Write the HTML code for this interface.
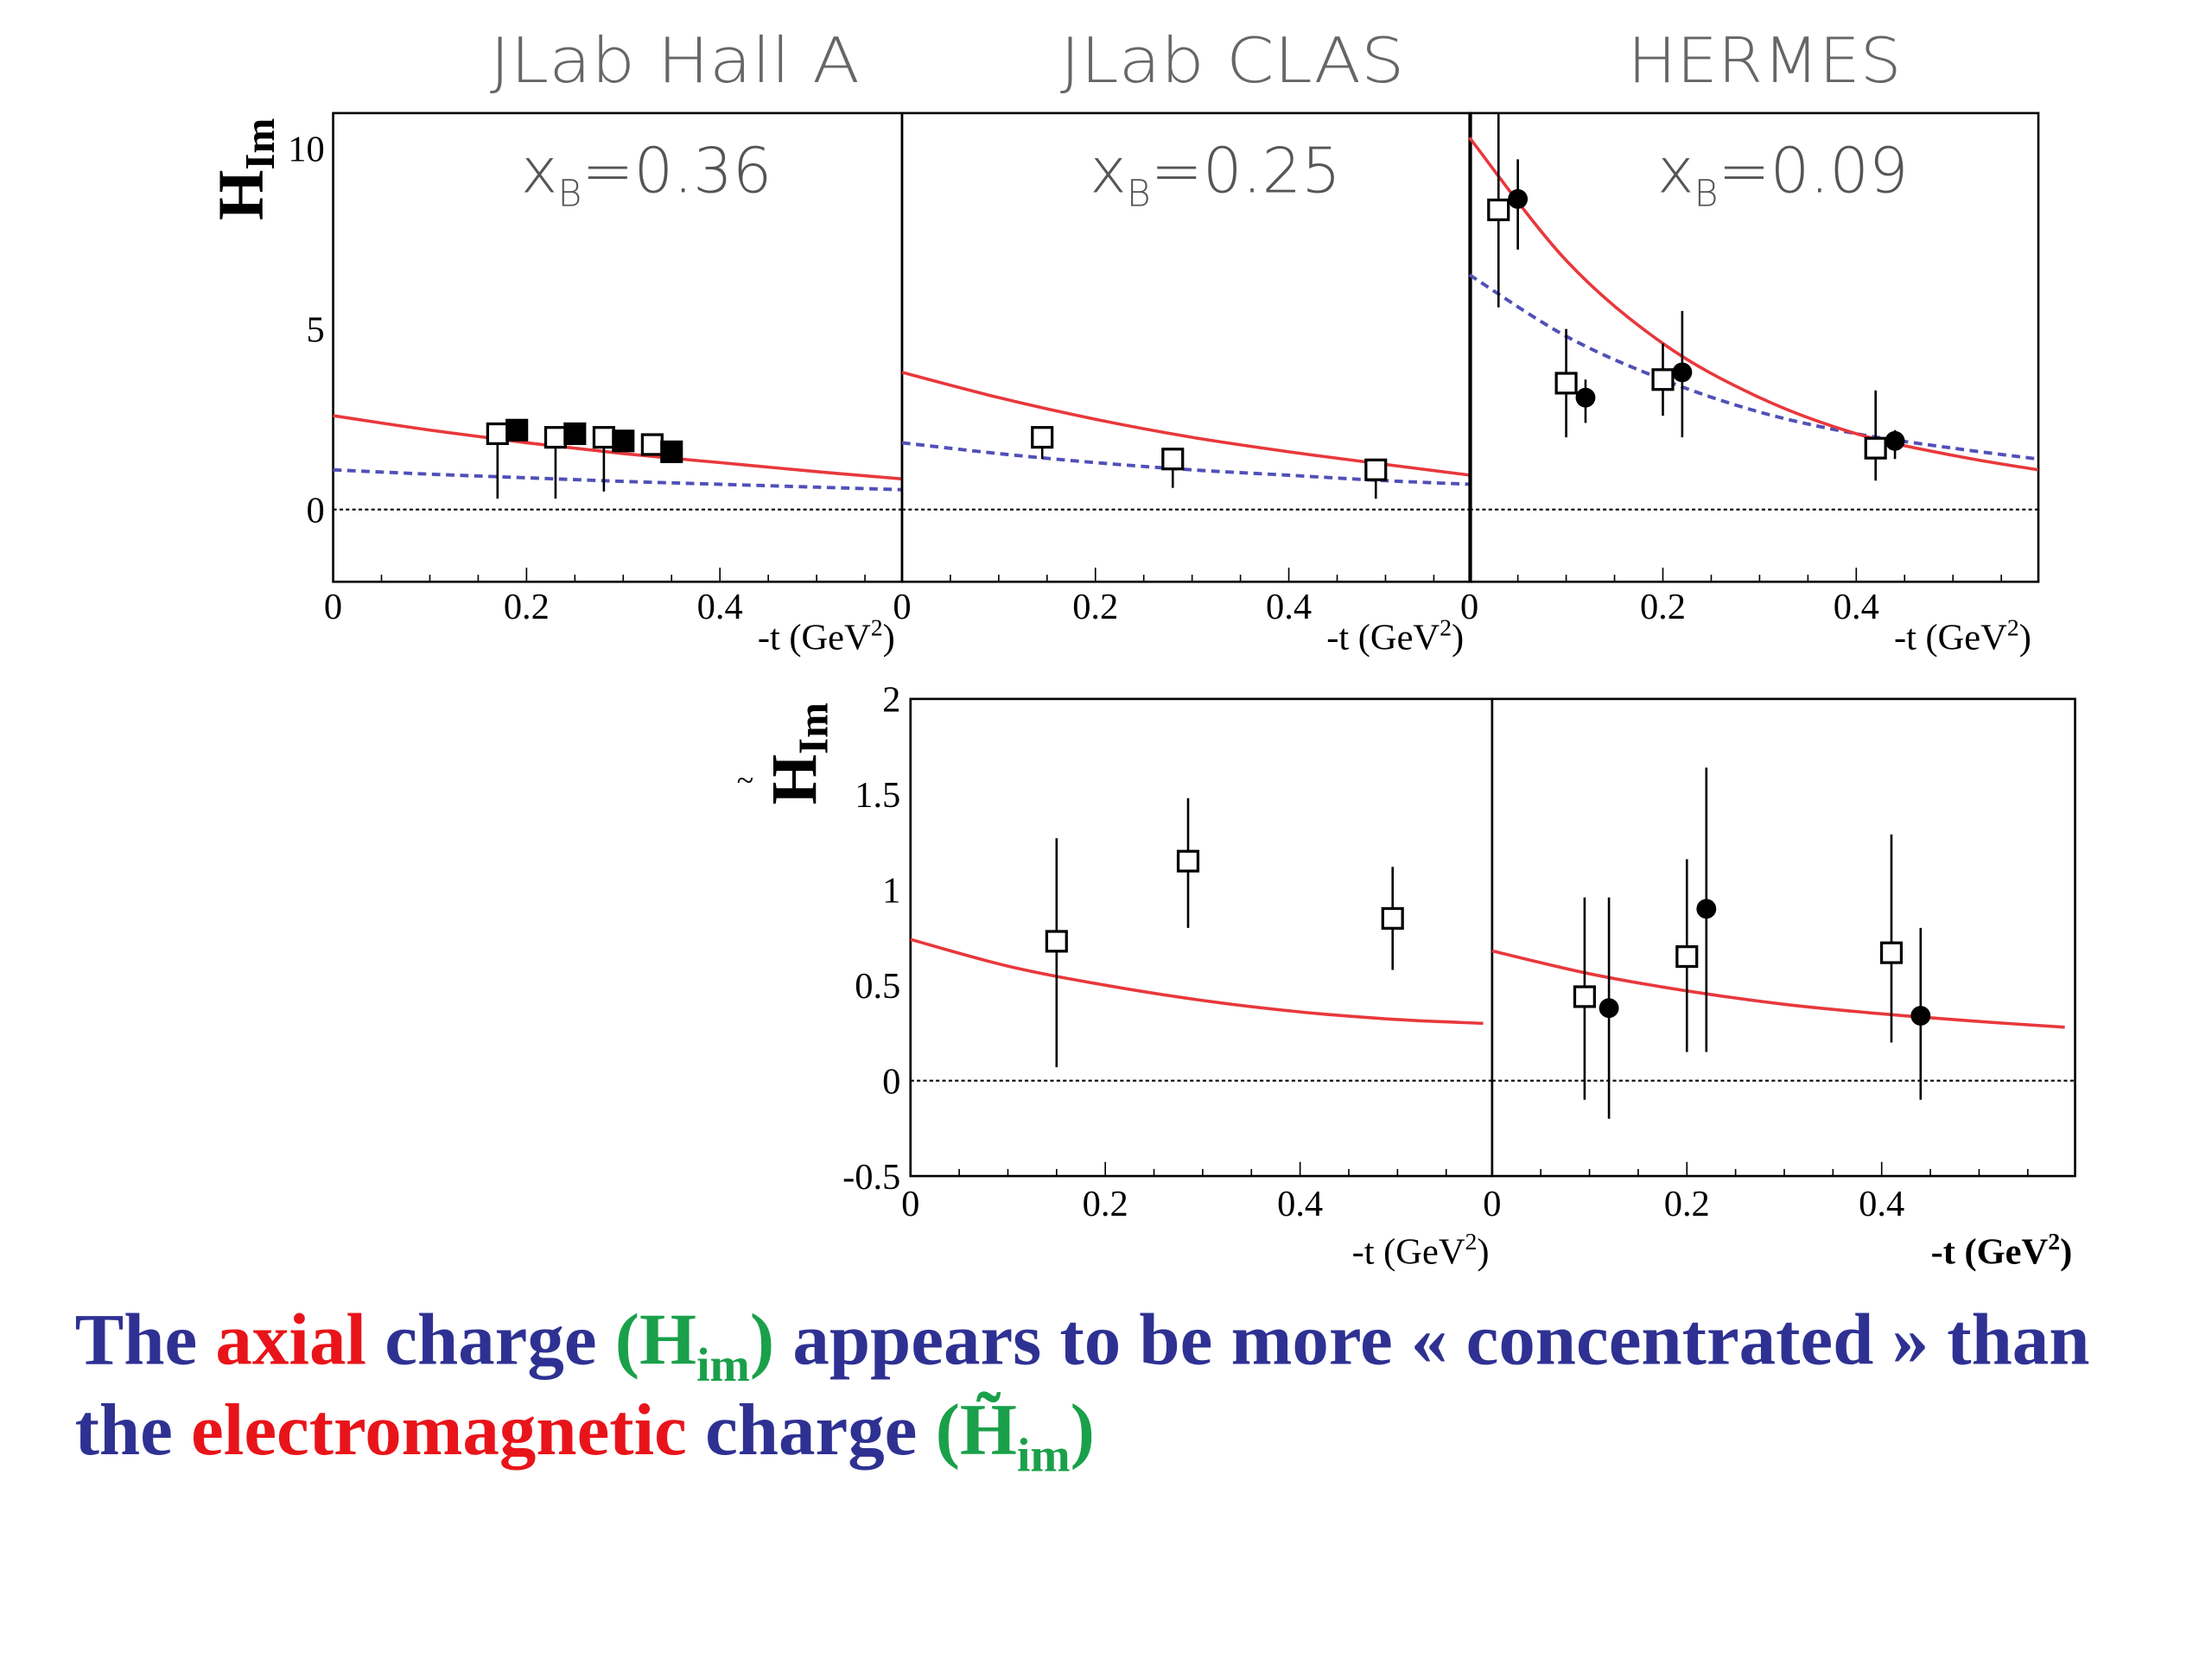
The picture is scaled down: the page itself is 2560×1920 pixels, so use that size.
<!DOCTYPE html>
<html><head><meta charset="utf-8"><style>
html,body{margin:0;padding:0;background:#fff;}
svg{display:block;}
</style></head><body>
<svg id="chart" width="2560" height="1920" viewBox="0 0 1567 1175" xmlns="http://www.w3.org/2000/svg">
<g id="top-titles" font-family="'DejaVu Sans','Liberation Sans',sans-serif" font-weight="300" font-size="44" fill="#666">
<text x="478" y="58" text-anchor="middle" textLength="262" lengthAdjust="spacingAndGlyphs">JLab Hall A</text>
<text x="873" y="58" text-anchor="middle" textLength="244" lengthAdjust="spacingAndGlyphs">JLab CLAS</text>
<text x="1250" y="58" text-anchor="middle" textLength="194" lengthAdjust="spacingAndGlyphs">HERMES</text>
</g>
<g id="plots"></g>
<text transform="translate(186,156) rotate(-90)" font-family="'Liberation Serif',serif" font-weight="bold" font-size="46">H<tspan font-size="30" dy="8">Im</tspan></text>
<text transform="translate(578,570) rotate(-90)" font-family="'Liberation Serif',serif" font-weight="bold" font-size="46">H<tspan font-size="30" dy="8">Im</tspan></text>
<text x="522" y="560" font-family="'Liberation Serif',serif" font-size="22">~</text>
<g font-family="'Liberation Serif',serif" font-weight="bold" font-size="52">
<text x="53" y="966" fill="#2e3192">The <tspan fill="#e8141a">axial</tspan> charge <tspan fill="#1aa04a">(H<tspan font-size="34" dy="12">im</tspan><tspan dy="-12">)</tspan></tspan> appears to be more « concentrated » than</text>
<text x="53" y="1030" fill="#2e3192">the <tspan fill="#e8141a">electromagnetic</tspan> charge <tspan fill="#1aa04a">(H̃<tspan font-size="34" dy="12">im</tspan><tspan dy="-12">)</tspan></tspan></text>
</g>
</svg>
<script>
const curveT = [0, 0.1, 0.2, 0.3, 0.4, 0.5, 0.588];
const hallARed = [2.6, 2.2, 1.85, 1.55, 1.3, 1.05, 0.85];
const hallABlue = [1.1, 0.98, 0.88, 0.78, 0.7, 0.62, 0.55];
const clasRed = [3.8, 3.1, 2.5, 2.0, 1.6, 1.25, 0.95];
const clasBlue = [1.85, 1.55, 1.3, 1.1, 0.95, 0.8, 0.7];
const hermesRed = [10.3, 6.9, 4.6, 3.1, 2.1, 1.5, 1.1];
const hermesBlue = [6.5, 4.8, 3.6, 2.7, 2.1, 1.7, 1.4];
const tildeClasRed = [0.74, 0.6, 0.5, 0.42, 0.36, 0.32, 0.30];
const tildeHermesRed = [0.68, 0.56, 0.47, 0.40, 0.35, 0.31, 0.28];

const hallAOpenT = [0.17, 0.23, 0.28, 0.33];
const hallAOpenY = [2.1, 2.0, 2.0, 1.8];
const hallAOpenLo = [0.3, 0.3, 0.5, 1.6];
const hallAOpenHi = [2.1, 2.0, 2.0, 1.8];
const hallAFillT = [0.19, 0.25, 0.30, 0.35];
const hallAFillY = [2.2, 2.1, 1.9, 1.6];

const clasT = [0.145, 0.28, 0.49];
const clasY = [2.0, 1.4, 1.1];
const clasLo = [1.4, 0.6, 0.3];
const clasHi = [2.0, 1.4, 1.1];

const hermesOpenT = [0.03, 0.10, 0.20, 0.42];
const hermesOpenY = [8.3, 3.5, 3.6, 1.7];
const hermesOpenLo = [5.6, 2.0, 2.6, 0.8];
const hermesOpenHi = [11, 5.0, 4.6, 3.3];
const hermesFillT = [0.05, 0.12, 0.22, 0.44];
const hermesFillY = [8.6, 3.1, 3.8, 1.9];
const hermesFillLo = [7.2, 2.4, 2.0, 1.4];
const hermesFillHi = [9.7, 3.6, 5.5, 2.2];

const tClasT = [0.15, 0.285, 0.495];
const tClasY = [0.73, 1.15, 0.85];
const tClasLo = [0.07, 0.8, 0.58];
const tClasHi = [1.27, 1.48, 1.12];

const tHermesOpenT = [0.095, 0.2, 0.41];
const tHermesOpenY = [0.44, 0.65, 0.67];
const tHermesOpenLo = [-0.1, 0.15, 0.2];
const tHermesOpenHi = [0.96, 1.16, 1.29];
const tHermesFillT = [0.12, 0.22, 0.44];
const tHermesFillY = [0.38, 0.9, 0.34];
const tHermesFillLo = [-0.2, 0.15, -0.1];
const tHermesFillHi = [0.96, 1.64, 0.8];

const topYTicks = [0, 5, 10];
const botYTicks = [-0.5, 0, 0.5, 1, 1.5, 2];
const botYTickLabels = ['-0.5', '0', '0.5', '1', '1.5', '2'];
const xTicks = [0, 0.2, 0.4];
const xTickLabels = ['0', '0.2', '0.4'];

const NS = 'http://www.w3.org/2000/svg';
const root = document.getElementById('plots');
function mk(tag, attrs, parent) {
  const e = document.createElementNS(NS, tag);
  for (const k in attrs) e.setAttribute(k, attrs[k]);
  (parent || root).appendChild(e);
  return e;
}

function panel(x0, w, yTop, yBot, yMin, yMax, pxPerT, label) {
  const sx = t => x0 + t * pxPerT;
  const sy = v => yBot - (v - yMin) / (yMax - yMin) * (yBot - yTop);
  const g = mk('g', {});
  
  
  const fr = mk('rect', {x: x0, y: yTop, width: w, height: yBot - yTop, fill: 'none', stroke: '#000', 'stroke-width': 1.6}, g);
  
  
  for (let t = 0; t <= w / pxPerT + 1e-6; t += 0.05) {
    const major = Math.abs(t * 10 - Math.round(t * 10)) < 1e-6 && Math.round(t*10)%2===0;
    const tk = mk('line', {x1: sx(t), x2: sx(t), y1: yBot, y2: yBot - (major ? 10 : 5), stroke: '#000', 'stroke-width': 1}, g);
    
    
  }
  const z = mk('line', {x1: x0, x2: x0 + w, y1: sy(0), y2: sy(0), stroke: '#000', 'stroke-width': 1.3, 'stroke-dasharray': '2.5,2'}, g);
  
  
  return {g, sx, sy};
}
function curve(p, ys, color, dashed, name) {
  const P = curveT.map((t, i) => [p.sx(t), p.sy(ys[i])]);
  let d = 'M' + P[0][0] + ',' + P[0][1];
  for (let i = 0; i < P.length - 1; i++) {
    const p0 = P[Math.max(i - 1, 0)], p1 = P[i], p2 = P[i + 1], p3 = P[Math.min(i + 2, P.length - 1)];
    const c1x = p1[0] + (p2[0] - p0[0]) / 6, c1y = p1[1] + (p2[1] - p0[1]) / 6;
    const c2x = p2[0] - (p3[0] - p1[0]) / 6, c2y = p2[1] - (p3[1] - p1[1]) / 6;
    d += ' C' + c1x + ',' + c1y + ' ' + c2x + ',' + c2y + ' ' + p2[0] + ',' + p2[1];
  }
  const e = mk('path', {d, fill: 'none', stroke: color, 'stroke-width': dashed ? 2.4 : 2.2, 'stroke-dasharray': dashed ? '6,4' : 'none'}, p.g);
  
  
}
function points(p, ts, ys, lo, hi, filled, shape, name) {
  ts.forEach((t, i) => {
    if (lo) {
      const eb = mk('line', {x1: p.sx(t), x2: p.sx(t), y1: p.sy(lo[i]), y2: p.sy(hi[i]), stroke: '#000', 'stroke-width': 1.6}, p.g);
      
      
    }
    let m;
    if (shape === 'circle') m = mk('circle', {cx: p.sx(t), cy: p.sy(ys[i]), r: 7, fill: '#000'}, p.g);
    else m = mk('rect', {x: p.sx(t) - 7, y: p.sy(ys[i]) - 7, width: 14, height: 14, fill: filled ? '#000' : '#fff', stroke: '#000', 'stroke-width': 2}, p.g);
    
    
  });
}
function txt(s, x, y, size, anchor, name, bold) {
  const e = mk('text', {x, y, 'font-size': size, 'text-anchor': anchor, 'font-family': "'Liberation Serif',serif", 'font-weight': bold ? 'bold' : 'normal'});
  e.textContent = s;
  
  
  return e;
}

const tops = [
  {x0: 236, label: 'hall-a', red: hallARed, blue: hallABlue, xb: '0.36'},
  {x0: 639, label: 'clas', red: clasRed, blue: clasBlue, xb: '0.25'},
  {x0: 1041, label: 'hermes', red: hermesRed, blue: hermesBlue, xb: '0.09'}
];
const pTop = tops.map(o => {
  const p = panel(o.x0, o.x0 === 1041 ? 403 : 403, 80, 412, -2, 10.98, 685, o.label);
  curve(p, o.blue, '#5050b8', true, o.label + '-blue-curve');
  curve(p, o.red, '#e8383c', false, o.label + '-red-curve');
  xTicks.forEach((t, i) => txt(xTickLabels[i], p.sx(t), 438, 26, 'middle', 'x-tick-label'));
  const xl = txt('-t (GeV', o.x0 + 398, 460, 26, 'end', 'x-axis-title');
  const sup = mk('tspan', {dy: -10, 'font-size': 17}, xl); sup.textContent = '2';
  const cl = mk('tspan', {dy: 10}, xl); cl.textContent = ')';
  const xbT = mk('text', {x: o.x0 + 222, y: 136, 'text-anchor': 'middle', 'font-family': "'DejaVu Sans','Liberation Sans',sans-serif", 'font-weight': 300, 'font-size': 44, fill: '#555'});
  
  
  xbT.innerHTML = 'x<tspan font-size="26" dy="10">B</tspan><tspan dy="-10">=0.' + o.xb.slice(2) + '</tspan>';
  return p;
});
topYTicks.forEach(v => txt(String(v), 230, pTop[0].sy(v) + 9, 26, 'end', 'y-tick-label'));
points(pTop[0], hallAOpenT, hallAOpenY, hallAOpenLo, hallAOpenHi, false, 'sq', 'hall-a-open');
points(pTop[0], hallAFillT, hallAFillY, null, null, true, 'sq', 'hall-a-filled');
points(pTop[1], clasT, clasY, clasLo, clasHi, false, 'sq', 'clas-open');
points(pTop[2], hermesOpenT, hermesOpenY, hermesOpenLo, hermesOpenHi, false, 'sq', 'hermes-open');
points(pTop[2], hermesFillT, hermesFillY, hermesFillLo, hermesFillHi, true, 'circle', 'hermes-filled');

const b1 = panel(645, 412, 495, 833, -0.5, 2, 690, 'tilde-clas');
const b2 = panel(1057, 413, 495, 833, -0.5, 2, 690, 'tilde-hermes');
curve(b1, tildeClasRed, '#e8383c', false, 'tilde-clas-red-curve');
curve(b2, tildeHermesRed, '#e8383c', false, 'tilde-hermes-red-curve');
points(b1, tClasT, tClasY, tClasLo, tClasHi, false, 'sq', 'tilde-clas-open');
points(b2, tHermesOpenT, tHermesOpenY, tHermesOpenLo, tHermesOpenHi, false, 'sq', 'tilde-hermes-open');
points(b2, tHermesFillT, tHermesFillY, tHermesFillLo, tHermesFillHi, true, 'circle', 'tilde-hermes-filled');
botYTicks.forEach((v, i) => txt(botYTickLabels[i], 638, b1.sy(v) + 9, 26, 'end', 'y-tick-label'));
[b1, b2].forEach((p, j) => {
  xTicks.forEach((t, i) => txt(xTickLabels[i], p.sx(t), 861, 26, 'middle', 'x-tick-label'));
  const xl = txt('-t (GeV', j ? 1468 : 1055, 895, 26, 'end', 'x-axis-title', j === 1);
  const sup = mk('tspan', {dy: -10, 'font-size': 17}, xl); sup.textContent = '2';
  const cl = mk('tspan', {dy: 10}, xl); cl.textContent = ')';
});
</script>
</body></html>
